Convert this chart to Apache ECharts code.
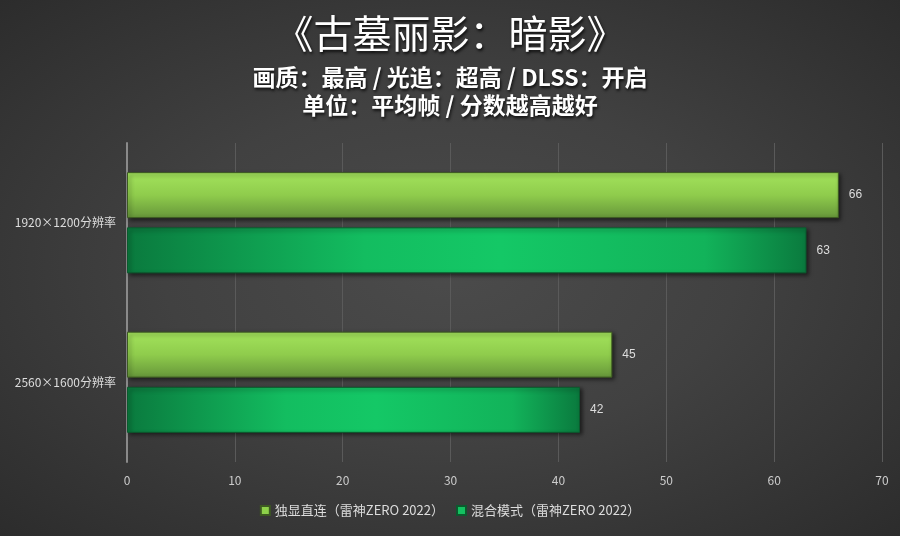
<!DOCTYPE html>
<html>
<head>
<meta charset="utf-8">
<script src="https://cdn.jsdelivr.net/npm/echarts@6/dist/echarts.min.js"></script>
<style>
  html, body { margin: 0; padding: 0; }
  #chart {
    width: 900px; height: 536px;
    background: radial-gradient(ellipse at 50% 50%, #4b4b4b 0%, #414141 45%, #2c2c2c 100%);
  }
</style>
</head>
<body>
<div id="chart"></div>
<script>
const categories = ["1920×1200分辨率", "2560×1600分辨率"];
const seriesNames = ["独显直连（雷神ZERO 2022）", "混合模式（雷神ZERO 2022）"];
const directValues = [66, 45];
const hybridValues = [63, 42];
const xTicks = { min: 0, max: 70, interval: 10 };

const chart = echarts.init(document.getElementById("chart"));

const lightGreen = new echarts.graphic.LinearGradient(0, 0, 0, 1, [
  { offset: 0, color: "#a3e35c" },
  { offset: 0.5, color: "#8fcc4c" },
  { offset: 1, color: "#66963a" }
]);
const darkGreen = new echarts.graphic.LinearGradient(0, 0, 1, 0, [
  { offset: 0, color: "#0a7a3e" },
  { offset: 0.35, color: "#13bd60" },
  { offset: 0.55, color: "#14c866" },
  { offset: 0.85, color: "#12b35a" },
  { offset: 1, color: "#0a7a3e" }
]);

const titleStyle = {
  color: "#ffffff",
  fontFamily: "Noto Sans CJK SC",
  fontWeight: "bold",
  textShadowColor: "rgba(0,0,0,0.8)",
  textShadowBlur: 3,
  textShadowOffsetX: 1,
  textShadowOffsetY: 2
};

const option = {
  backgroundColor: "transparent",
  title: [
    { text: "《古墓丽影：暗影》", left: "center", top: 9, textStyle: Object.assign({}, titleStyle, { fontSize: 39, fontWeight: "normal" }) },
    { text: "画质：最高 / 光追：超高 / DLSS：开启", left: "center", top: 61, textStyle: Object.assign({}, titleStyle, { fontSize: 23 }) },
    { text: "单位：平均帧 / 分数越高越好", left: "center", top: 89, textStyle: Object.assign({}, titleStyle, { fontSize: 23 }) }
  ],
  legend: {
    bottom: 14,
    left: "center",
    itemWidth: 9,
    itemHeight: 9,
    itemGap: 12,
    icon: "rect",
    textStyle: { color: "#dddddd", fontSize: 13, fontFamily: "Noto Sans CJK SC" },
    data: [
      { name: seriesNames[0], itemStyle: { color: "#8ed24a" } },
      { name: seriesNames[1], itemStyle: { color: "#14c060" } }
    ]
  },
  grid: { left: 127, right: 18, top: 143, bottom: 74 },
  xAxis: {
    type: "value",
    min: xTicks.min,
    max: xTicks.max,
    interval: xTicks.interval,
    axisLine: { show: false },
    axisTick: { show: false },
    axisLabel: { color: "#cccccc", fontSize: 12, margin: 12, fontFamily: "Noto Sans CJK SC" },
    splitLine: { lineStyle: { color: "#5a5a5a", width: 1 } }
  },
  yAxis: {
    type: "category",
    inverse: true,
    data: categories,
    axisLine: { show: true, lineStyle: { color: "#8a8a8a", width: 2 } },
    axisTick: { show: false },
    axisLabel: { color: "#dddddd", fontSize: 12, margin: 11, fontFamily: "Noto Sans CJK SC" }
  },
  series: [
    {
      name: seriesNames[0],
      type: "bar",
      data: directValues,
      barWidth: 46,
      barGap: "20%",
      itemStyle: {
        color: lightGreen,
        borderColor: "#3d5a22",
        borderWidth: 1,
        shadowColor: "rgba(0,0,0,0.55)",
        shadowBlur: 4,
        shadowOffsetX: 2,
        shadowOffsetY: 2
      },
      label: { show: true, position: "right", distance: 10, color: "#dddddd", fontSize: 12 }
    },
    {
      name: seriesNames[1],
      type: "bar",
      data: hybridValues,
      barWidth: 46,
      barGap: "20%",
      itemStyle: {
        color: darkGreen,
        borderColor: "#0b5a2e",
        borderWidth: 1,
        shadowColor: "rgba(0,0,0,0.55)",
        shadowBlur: 4,
        shadowOffsetX: 2,
        shadowOffsetY: 2
      },
      label: { show: true, position: "right", distance: 10, color: "#dddddd", fontSize: 12 }
    }
  ]
};

chart.setOption(option);
</script>
</body>
</html>
